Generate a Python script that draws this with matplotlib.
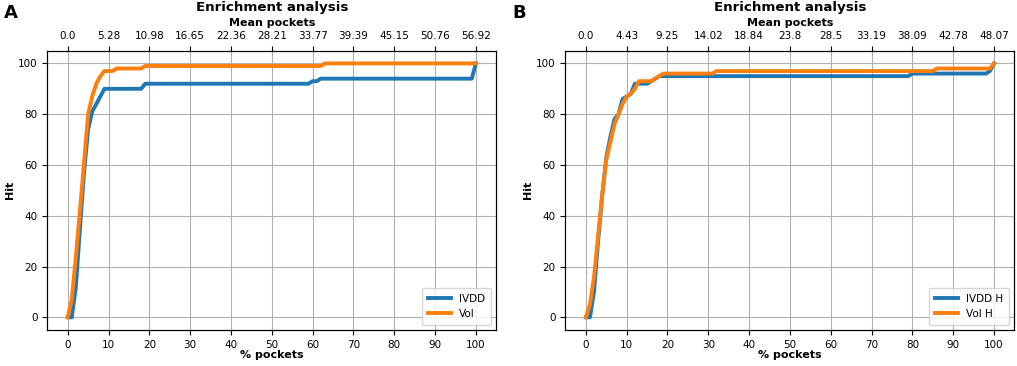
import numpy as np
import matplotlib.pyplot as plt

# % pockets (0..100) and hit values
pct = list(range(101))

ivdd = [0, 0, 12, 35, 57, 74, 81, 84, 87, 90] + [90] * 9 + [92] * 41 + [93, 93] + [94] * 38 + [100]
vol = [0, 7, 24, 42, 61, 80, 87, 92, 95, 97, 97, 97] + [98] * 7 + [99] * 44 + [100] * 38

ivdd_h = ([0, 0, 10, 30, 48, 63, 71, 78, 80, 86, 87, 88, 92, 92, 92, 92, 93, 94, 95, 95]
          + [95] * 60 + [96] * 18 + [96, 97, 100])
vol_h = ([0, 5, 16, 32, 48, 62, 69, 76, 80, 84, 87, 88, 90, 93, 93, 93, 93, 94, 95, 96]
         + [96] * 12 + [97] * 54 + [98] * 14 + [100])

ticks = list(range(0, 101, 10))
mean_a = ['0.0', '5.28', '10.98', '16.65', '22.36', '28.21', '33.77', '39.39', '45.15', '50.76', '56.92']
mean_b = ['0.0', '4.43', '9.25', '14.02', '18.84', '23.8', '28.5', '33.19', '38.09', '42.78', '48.07']

fig = plt.figure(figsize=(10.17, 3.66), dpi=100)

panels = [
    ('A', 0.0465, 0.004, ivdd, vol, 'IVDD', 'Vol', mean_a),
    ('B', 0.556, 0.504, ivdd_h, vol_h, 'IVDD H', 'Vol H', mean_b),
]

for letter, left, lx, blue, orange, lb, lo, top_labels in panels:
    ax = fig.add_axes([left, 0.0984, 0.4415, 0.763])
    ax.plot(pct, blue, color='#1f77b4', lw=2.8, label=lb)
    ax.plot(pct, orange, color='#ff7f0e', lw=2.8, label=lo)
    ax.set_xlim(-5, 105)
    ax.set_ylim(-5, 105)
    ax.set_xticks(ticks)
    ax.set_yticks(range(0, 101, 20))
    ax.tick_params(labelsize=7.5)
    ax.grid(True, color='#b0b0b0', lw=0.8)
    ax.set_xlabel('% pockets', fontsize=8, fontweight='bold', labelpad=0)
    ax.set_ylabel('Hit', fontsize=8, fontweight='bold', labelpad=2)
    ax.legend(loc='lower right', fontsize=7.5, handlelength=2.2, borderpad=0.55)

    top = ax.twiny()
    top.set_xlim(ax.get_xlim())
    top.set_xticks(ticks)
    top.set_xticklabels(top_labels)
    top.tick_params(labelsize=7.5, pad=3.5)
    top.set_xlabel('Mean pockets', fontsize=8, fontweight='bold', labelpad=3.5)
    top.set_title('Enrichment analysis', fontsize=9.6, fontweight='bold', pad=5.5)

    fig.text(lx, 0.951, letter, fontsize=13, fontweight='bold', va='baseline')

fig.savefig('out.png', dpi=100)
